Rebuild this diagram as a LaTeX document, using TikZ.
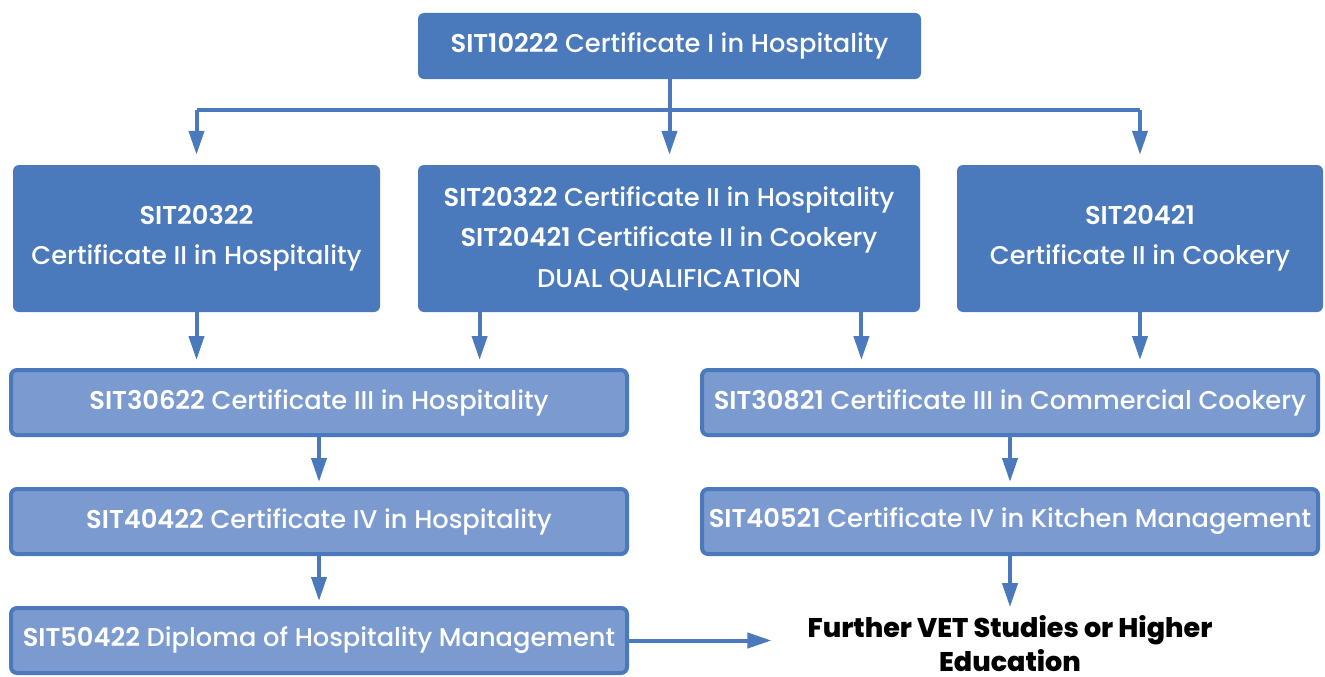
\documentclass[tikz,border=0pt]{standalone}
\usepackage{fontspec}
\setmainfont{Poppins}[UprightFont={* Medium}, BoldFont={* SemiBold}]
\newfontfamily\heavyfont{Poppins}[UprightFont={* ExtraBold}]
\usepackage{xcolor}
\definecolor{darkblue}{RGB}{74,122,188}
\definecolor{lightblue}{RGB}{123,155,208}
\usepackage{tikz}
\usetikzlibrary{calc}
\usetikzlibrary{arrows.meta}
\newcommand{\code}[1]{\textbf{#1}}
\newcommand{\widthcourse}{616pt}
\newcommand{\heightcourse}{65pt}
\tikzset{
    common/.style={rectangle, rounded corners=6pt, text=white, align=center, font=\fontsize{25.7}{40.5}\selectfont},
    entry/.style={common, fill=darkblue, inner sep=0pt},
    course/.style={common, fill=lightblue, draw=darkblue, line width=4pt, minimum width=\widthcourse, minimum height=\heightcourse, inner sep=0pt},
    link/.style={draw=darkblue, line width=4pt, -{Triangle[width=15pt, length=24pt]}},
    line/.style={draw=darkblue, line width=4pt}
}
\begin{document}
\begin{tikzpicture}[x=1pt, y=-1pt]
              \useasboundingbox (0,0) rectangle (1325,677);

              \node[entry, minimum width=503pt, minimum height=66pt] (C1) at (669.5,46) {\code{SIT10222} Certificate I in Hospitality};

              \node[entry, minimum width=367pt, minimum height=147pt] (C2H) at (196.5,238.5) {\code{SIT20322}\\Certificate II in Hospitality};
              \node[entry, minimum width=502pt, minimum height=147pt] (C2D) at (669,238.5) {\code{SIT20322} Certificate II in Hospitality\\\code{SIT20421} Certificate II in Cookery\\DUAL QUALIFICATION};
              \node[entry, minimum width=366pt, minimum height=147pt] (C2C) at (1140,238.5) {\code{SIT20421}\\Certificate II in Cookery};

              \node[course] (C3H) at (319,402.5) {\code{SIT30622} Certificate III in Hospitality};
              \node[course] (C4H) at (319,521.5) {\code{SIT40422} Certificate IV in Hospitality};
              \node[course] (DipH) at (319,640.5) {\code{SIT50422} Diploma of Hospitality Management};

              \node[course] (C3C) at (1010,402.5) {\code{SIT30821} Certificate III in Commercial Cookery};
              \node[course] (C4C) at (1010,521.5) {\code{SIT40521} Certificate IV in Kitchen Management};

              \node[align=center, inner sep=0pt, font=\fontsize{27}{34}\selectfont\heavyfont] (Further) at (1010,643.5) {Further VET Studies or Higher\\Education};

              \coordinate (split) at (C1.south |- 0,110);

              % first level
              \draw[line] (C1.south) -- (split);
              \draw[line] (split -| C2H.north) -- (split -| C2C.north);
              \draw[link, shorten >=10pt] (split) -- (split |- C2D.north);
              \draw[link, shorten >=10pt] (split -| C2H.north) -- (C2H.north);
              \draw[link, shorten >=10pt] (split -| C2C.north) -- (C2C.north);

              % second level
              \draw[link, shorten >=8pt] (C2H.south) -- (C2H.south |- C3H.north);
              \draw[link, shorten >=8pt] ($(C2D.south west)!0.123!(C2D.south east)$) coordinate (D1) -- (D1 |- C3H.north);
              \draw[link, shorten >=8pt] ($(C2D.south west)!0.883!(C2D.south east)$) coordinate (D2) -- (D2 |- C3C.north);
              \draw[link, shorten >=8pt] (C2C.south) -- (C2C.south |- C3C.north);

              % pathways
              \draw[link, shorten >=5pt] (C3H) -- (C4H);
              \draw[link, shorten >=5pt] (C4H) -- (DipH);
              \draw[link, shorten >=5pt] (C3C) -- (C4C);
              \draw[link, shorten >=8pt] (C4C.south) -- (C4C.south |- Further.north);
              \draw[link, shorten >=36pt] (DipH.east) -- (DipH.east -| Further.west);
            \end{tikzpicture}
\end{document}
